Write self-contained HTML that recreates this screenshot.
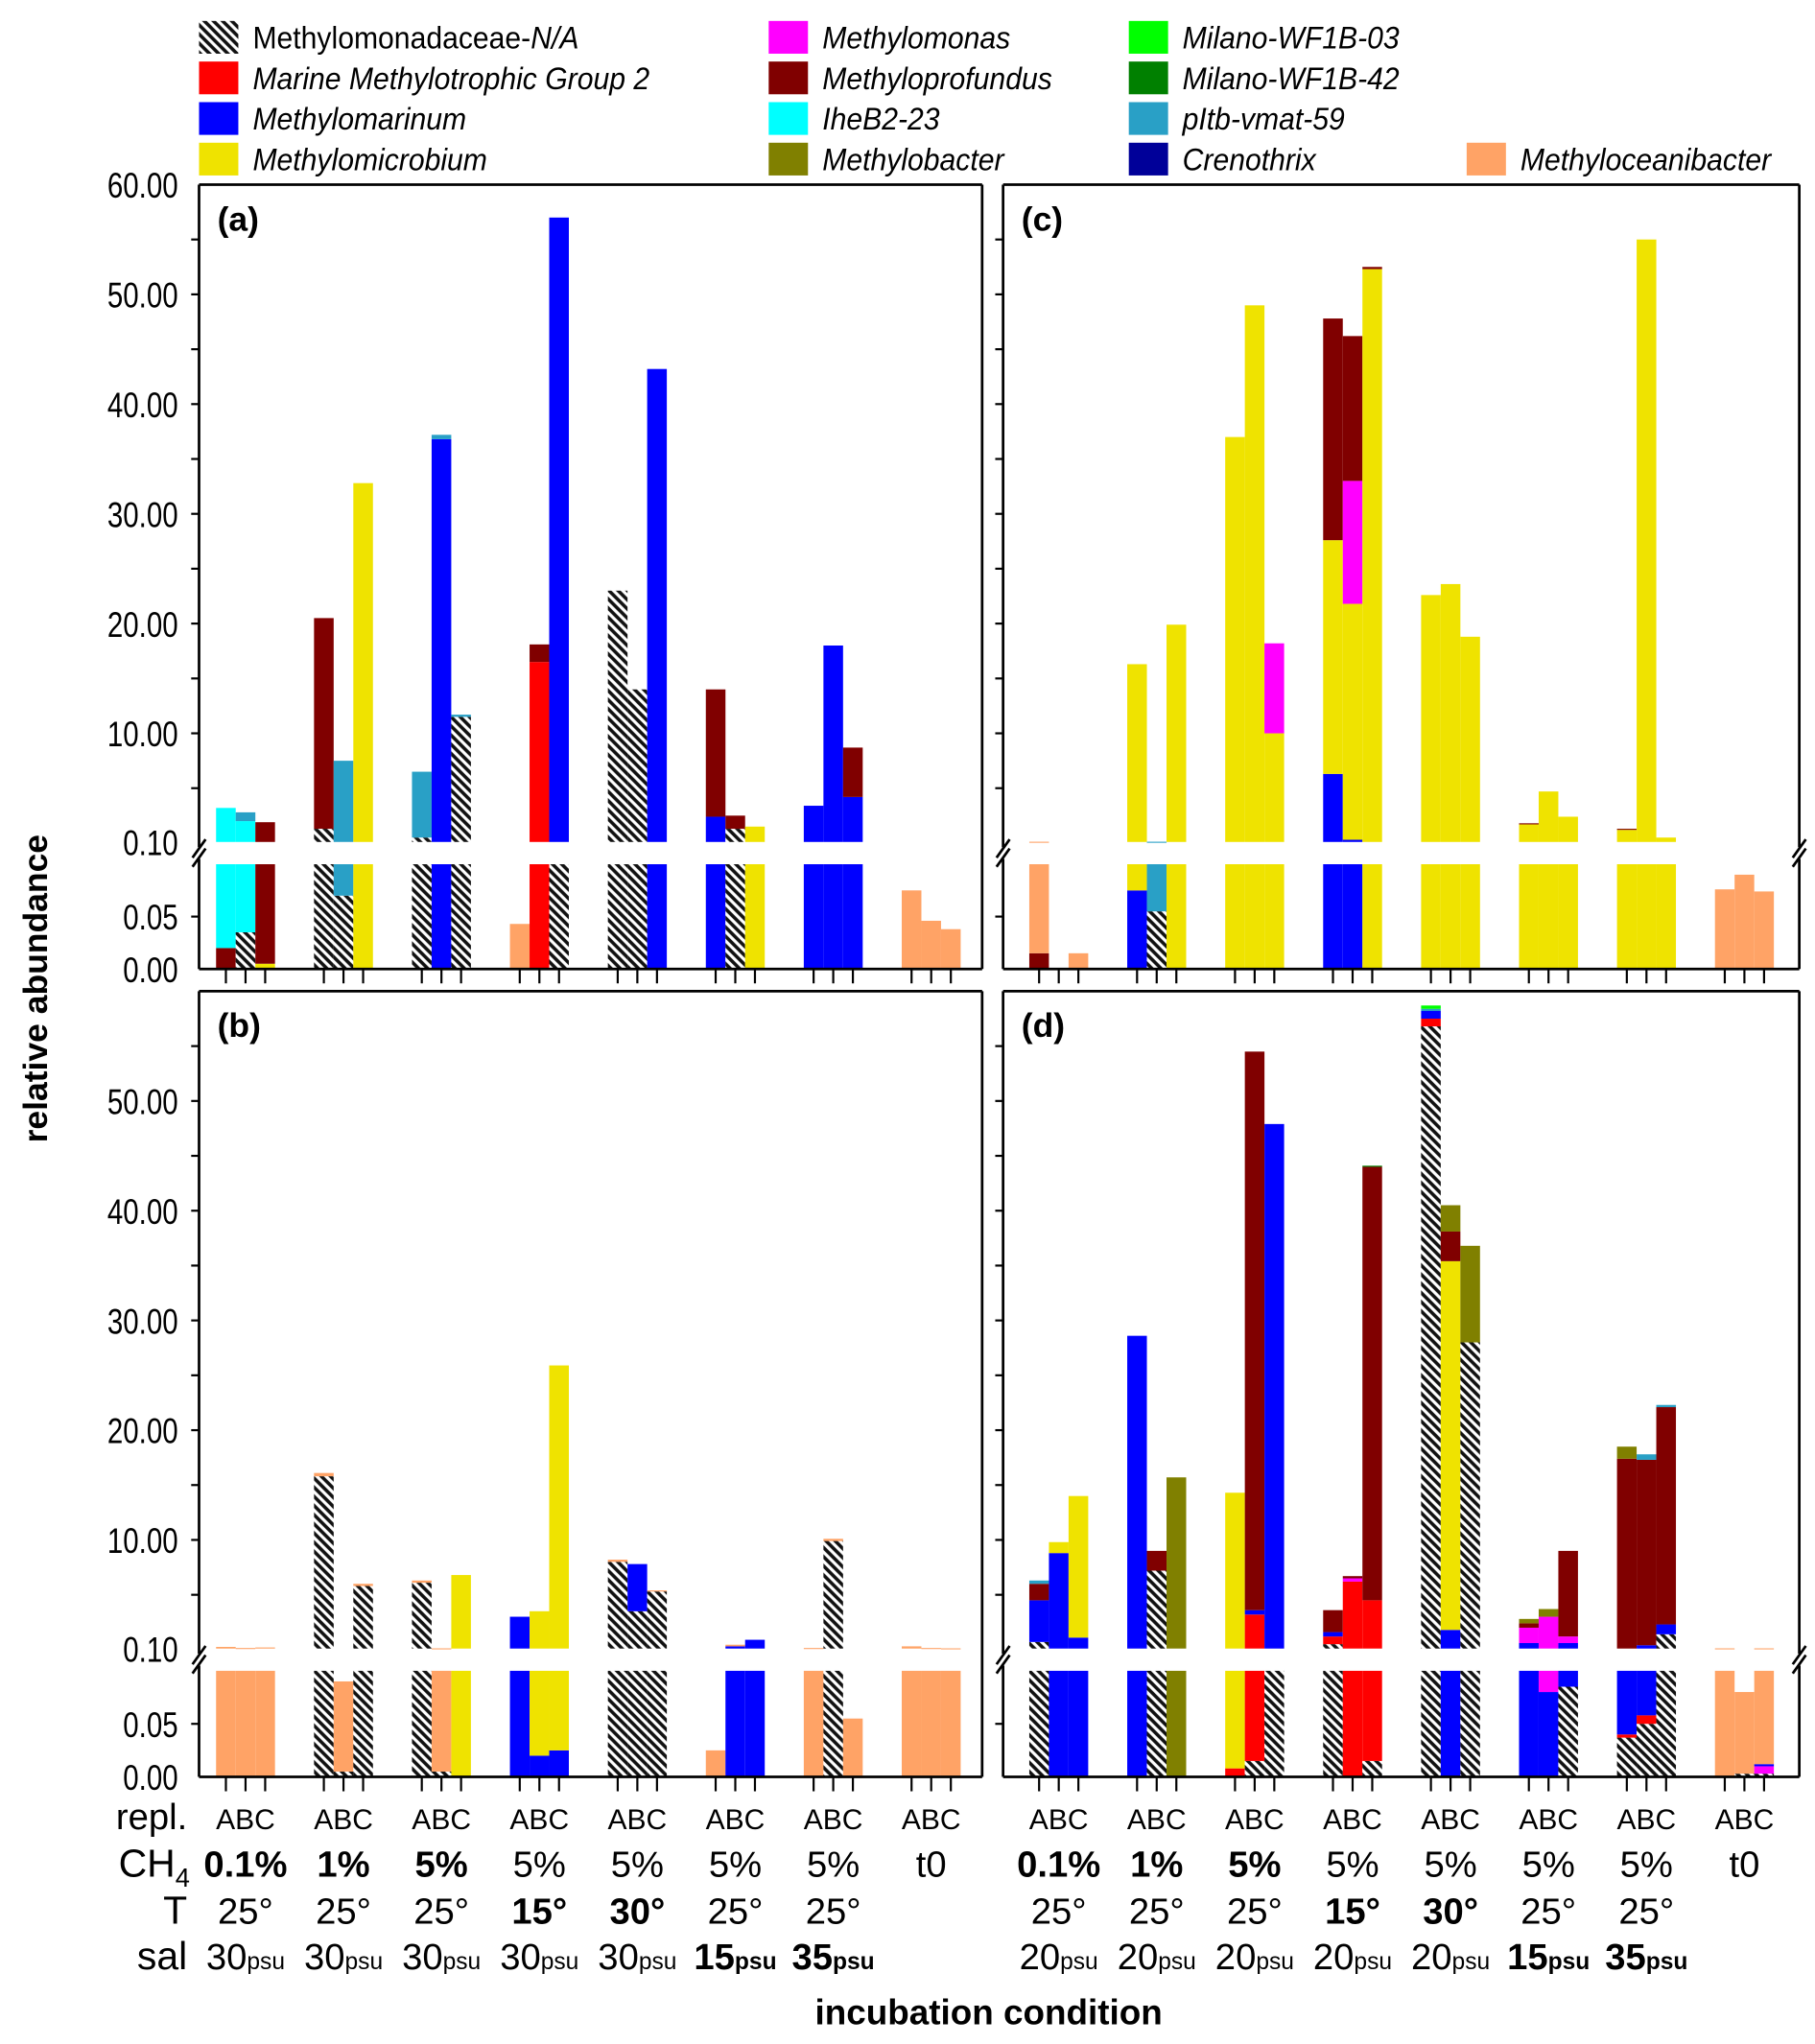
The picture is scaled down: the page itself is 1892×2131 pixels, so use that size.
<!DOCTYPE html>
<html><head><meta charset="utf-8">
<style>
html,body{margin:0;padding:0;background:#fff;}
svg{display:block;font-family:"Liberation Sans",sans-serif;}
</style></head>
<body>
<svg id="chart" width="1892" height="2131" viewBox="0 0 1386 1561" preserveAspectRatio="none" xmlns="http://www.w3.org/2000/svg">
<defs>
<pattern id="hatch" patternUnits="userSpaceOnUse" width="7" height="7">
<rect width="7" height="7" fill="#fff"/>
<path d="M-1,-1 L8,8 M-1,6 L1,8 M6,-1 L8,1" stroke="#111" stroke-width="2.6"/>
</pattern>
</defs>
<g id="legend" font-size="24" font-style="italic">
</g>
<g id="plots"></g>
<text x="0" y="0" transform="translate(36,755) rotate(-90)" text-anchor="middle" font-size="26" font-weight="bold">relative abundance</text>
<text x="755" y="1546" text-anchor="middle" font-size="27" font-weight="bold">incubation condition</text>
</svg>
<script>
const taxaKeys = ["H","R","B","Y","M","P","C","O","G","DG","T","N","S"];
const taxaNames = ["Methylomonadaceae-N/A","Marine Methylotrophic Group 2","Methylomarinum","Methylomicrobium","Methylomonas","Methyloprofundus","IheB2-23","Methylobacter","Milano-WF1B-03","Milano-WF1B-42","pItb-vmat-59","Crenothrix","Methyloceanibacter"];
const taxaColors = ["url(#hatch)","#ff0000","#0000ff","#efe300","#ff00ff","#800000","#00ffff","#808000","#00ff00","#008000","#29a0c6","#000099","#ffa366"];

// cumulative stack tops per bar (groups of A,B,C)
const dataA = [
 [["P",0.02],["C",3.2]], [["H",0.035],["C",2.0],["T",2.8]], [["Y",0.005],["P",1.9]],
 [["H",1.3],["P",20.5]], [["H",0.07],["T",7.5]], [["Y",32.8]],
 [["H",0.5],["T",6.5]], [["B",36.8],["T",37.2]], [["H",11.5],["T",11.7]],
 [["S",0.043]], [["R",16.5],["P",18.1]], [["H",0.1],["B",57]],
 [["H",23]], [["H",14]], [["B",43.2]],
 [["B",2.4],["P",14]], [["H",1.3],["P",2.5]], [["Y",1.5]],
 [["B",3.4]], [["B",18]], [["B",4.2],["P",8.7]],
 [["S",0.075]], [["S",0.046]], [["S",0.038]]
];
const dataB = [
 [["S",0.25]], [["S",0.15]], [["S",0.2]],
 [["H",15.8],["S",16.1]], [["H",0.005],["S",0.09]], [["H",5.8],["S",6.0]],
 [["H",6.1],["S",6.3]], [["H",0.005],["S",0.12]], [["Y",6.8]],
 [["B",3.0]], [["B",0.02],["Y",3.5]], [["B",0.025],["Y",25.9]],
 [["H",8.0],["S",8.2]], [["H",3.5],["B",7.8]], [["H",5.3],["S",5.4]],
 [["S",0.025]], [["B",0.3],["S",0.45]], [["B",0.9]],
 [["S",0.15]], [["H",9.9],["S",10.1]], [["S",0.055]],
 [["S",0.3]], [["S",0.15]], [["S",0.12]]
];
const dataC = [
 [["P",0.015],["S",0.12]], [], [["S",0.015]],
 [["B",0.075],["Y",16.3]], [["H",0.055],["T",0.12]], [["Y",19.9]],
 [["Y",37]], [["Y",49]], [["Y",10],["M",18.2]],
 [["B",6.3],["Y",27.6],["P",47.8]], [["B",0.3],["Y",21.8],["M",33],["P",46.2]], [["Y",52.3],["P",52.5]],
 [["Y",22.6]], [["Y",23.6]], [["Y",18.8]],
 [["Y",1.7],["P",1.8]], [["Y",4.7]], [["Y",2.4]],
 [["Y",1.2],["P",1.3]], [["Y",55]], [["Y",0.5]],
 [["S",0.076]], [["S",0.09]], [["S",0.074]]
];
const dataD = [
 [["H",0.7],["B",4.5],["P",6.0],["T",6.3]], [["B",8.8],["Y",9.8]], [["B",1.1],["Y",14]],
 [["B",28.6]], [["H",7.2],["P",9.0]], [["O",15.7]],
 [["R",0.008],["Y",14.3]], [["H",0.015],["R",3.2],["B",3.6],["P",54.5]], [["H",0.1],["B",47.9]],
 [["H",0.5],["R",1.2],["B",1.6],["P",3.6]], [["R",6.2],["M",6.5],["P",6.7]], [["H",0.015],["R",4.5],["P",44],["DG",44.1]],
 [["H",56.8],["R",57.5],["B",58.2],["T",58.4],["G",58.7]], [["B",1.8],["Y",35.4],["P",38.1],["O",40.5]], [["H",28],["O",36.8]],
 [["B",0.6],["M",2.0],["P",2.4],["O",2.8]], [["B",0.08],["M",3.0],["O",3.7]], [["H",0.085],["B",0.6],["M",1.2],["P",9.0]],
 [["H",0.037],["R",0.04],["B",0.1],["P",17.4],["O",18.5]], [["H",0.05],["R",0.058],["B",0.4],["P",17.3],["T",17.8]], [["H",1.4],["B",2.3],["P",22.1],["T",22.3]],
 [["S",0.12]], [["H",0.003],["S",0.08]], [["H",0.003],["M",0.01],["B",0.012],["S",0.12]]
];
const upperTicks = ["0.10","10.00","20.00","30.00","40.00","50.00","60.00"];
const upperTickVals = [0.1,10,20,30,40,50,60];
const lowerTicks = ["0.00","0.05"];
const lowerTickVals = [0,0.05];
const ch4Labels = ["0.1%","1%","5%","5%","5%","5%","5%","t0"];
const ch4Bold = [1,1,1,0,0,0,0,0];
const tLabels = ["25°","25°","25°","15°","30°","25°","25°",""];
const tBold = [0,0,0,1,1,0,0,0];
const salLeft = ["30","30","30","30","30","15","35",""];
const salRight = ["20","20","20","20","20","15","35",""];
const salBold = [0,0,0,0,0,1,1,0];

const NS="http://www.w3.org/2000/svg";
const svg=document.getElementById("chart");
function mk(tag,attrs,parent){const e=document.createElementNS(NS,tag);for(const k in attrs)e.setAttribute(k,attrs[k]);(parent||svg).appendChild(e);return e;}

// legend
const leg=document.getElementById("legend");
const legPos=[[0,0],[0,1],[0,2],[0,3],[1,0],[1,1],[1,2],[1,3],[2,0],[2,1],[2,2],[2,3],[3,3]];
const colSw=[152,587,862,1120];
for(let i=0;i<taxaKeys.length;i++){
 const [c,r]=legPos[i];
 const g=mk("g",{},leg);
 
 
 const sw=mk("rect",{x:colSw[c],y:16+r*31,width:30,height:25,fill:taxaColors[i]},g);
 
 
 const tx=colSw[c]+41;
 const t=mk("text",{x:tx,y:37+r*31,transform:"translate("+tx+",0) scale(0.92,1) translate("+(-tx)+",0)"},g);
 if(i===0){
  const a=mk("tspan",{"font-style":"normal"},t);a.textContent="Methylomonadaceae-";
  const b=mk("tspan",{},t);b.textContent="N/A";
 } else t.textContent=taxaNames[i];
 
 
}

const panels=[
 {id:"a",data:dataA,x0:152,x1:750,top:141,brk:643,low0:660,bot:740,gs:165,labels:true,letter:"(a)"},
 {id:"b",data:dataB,x0:152,x1:750,top:757,brk:1259,low0:1276,bot:1357,gs:165,labels:true,letter:"(b)",bottomRow:true,sal:salLeft},
 {id:"c",data:dataC,x0:766,x1:1374,top:141,brk:643,low0:660,bot:740,gs:786,labels:false,letter:"(c)"},
 {id:"d",data:dataD,x0:766,x1:1374,top:757,brk:1259,low0:1276,bot:1357,gs:786,labels:false,letter:"(d)",bottomRow:true,sal:salRight}
];
const GAP=74.8, BW=15;
const keyIdx=k=>taxaKeys.indexOf(k);

panels.forEach(p=>{
 const g=mk("g",{});
 
 
 const ys=(p.brk-p.top)/59.9;
 const yU=v=>p.brk-(v-0.1)*ys;
 const yL=v=>p.bot-(v/0.1)*(p.bot-p.low0);
 const bx=i=>p.gs+Math.floor(i/3)*GAP+(i%3)*BW;
 p.data.forEach((stack,i)=>{
  let s=0;
  stack.forEach(([k,top])=>{
   const col=taxaColors[keyIdx(k)];
   const lo0=Math.min(s,0.1), lo1=Math.min(top,0.1);
   if(lo1>lo0){const r=mk("rect",{x:bx(i),y:yL(lo1),width:BW,height:yL(lo0)-yL(lo1),fill:col},g);
    
    }
   const u0=Math.max(s,0.1), u1=Math.max(top,0.1);
   if(u1>u0){const r=mk("rect",{x:bx(i),y:yU(u1),width:BW,height:Math.max(yU(u0)-yU(u1),0.8),fill:col},g);
    
    }
   s=top;
  });
  mk("line",{x1:bx(i)+BW/2,x2:bx(i)+BW/2,y1:p.bot,y2:p.bot+11,stroke:"#000","stroke-width":1.6},g);
 });
 const st={stroke:"#000","stroke-width":2,fill:"none"};
 mk("line",Object.assign({x1:p.x0,x2:p.x1,y1:p.top,y2:p.top},st),g);
 mk("line",Object.assign({x1:p.x0,x2:p.x1,y1:p.bot,y2:p.bot},st),g);
 mk("line",Object.assign({x1:p.x0,x2:p.x0,y1:p.top,y2:p.brk+4},st),g);
 mk("line",Object.assign({x1:p.x0,x2:p.x0,y1:p.low0-4,y2:p.bot},st),g);
 if(p.id==="a"||p.id==="b"){
  mk("line",Object.assign({x1:p.x1,x2:p.x1,y1:p.top,y2:p.bot},st),g);
 } else {
  mk("line",Object.assign({x1:p.x1,x2:p.x1,y1:p.top,y2:p.brk+4},st),g);
  mk("line",Object.assign({x1:p.x1,x2:p.x1,y1:p.low0-4,y2:p.bot},st),g);
  mk("line",Object.assign({x1:p.x1-5,x2:p.x1+5,y1:p.brk+12,y2:p.brk-2},st),g);
  mk("line",Object.assign({x1:p.x1-5,x2:p.x1+5,y1:p.low0+2,y2:p.low0-12},st),g);
 }
 mk("line",Object.assign({x1:p.x0-5,x2:p.x0+5,y1:p.brk+12,y2:p.brk-2},st),g);
 mk("line",Object.assign({x1:p.x0-5,x2:p.x0+5,y1:p.low0+2,y2:p.low0-12},st),g);
 for(let v=5;v<=55;v+=5){mk("line",{x1:p.x0-6,x2:p.x0,y1:yU(v),y2:yU(v),stroke:"#000","stroke-width":1.6},g);}
 mk("line",{x1:p.x0-6,x2:p.x0,y1:yL(0.05),y2:yL(0.05),stroke:"#000","stroke-width":1.6},g);
 if(p.labels){
  const lx=p.x0-16;
  const tf="translate("+lx+",0) scale(0.8,1) translate("+(-lx)+",0)";
  upperTicks.forEach((lab,j)=>{
   if(p.id==="b"&&upperTickVals[j]===60)return;
   const t=mk("text",{x:lx,y:yU(upperTickVals[j])+10,"text-anchor":"end","font-size":27,transform:tf},g);
   t.textContent=lab;
   
   
  });
  lowerTicks.forEach((lab,j)=>{
   const t=mk("text",{x:lx,y:yL(lowerTickVals[j])+10,"text-anchor":"end","font-size":27,transform:tf},g);
   t.textContent=lab;
   
   
  });
 }
 const L=mk("text",{x:p.x0+14,y:p.top+35,"font-size":26,"font-weight":"bold"},g);
 L.textContent=p.letter;
 
 
 if(p.bottomRow){
  for(let gi=0;gi<8;gi++){
   const cx=p.gs+gi*GAP+22.5;
   const rows=[["ABC",0,1400,22],[ch4Labels[gi],ch4Bold[gi],1436,28],[tLabels[gi],tBold[gi],1472,28]];
   rows.forEach(([txt,b,y,fs])=>{
    const t=mk("text",{x:cx,y:y-3,"text-anchor":"middle","font-size":fs,"font-weight":b?"bold":"normal"},g);
    t.textContent=txt;
    
    
   });
   if(p.sal[gi]){
    const t=mk("text",{x:cx,y:1504,"text-anchor":"middle","font-size":28,"font-weight":salBold[gi]?"bold":"normal"},g);
    t.textContent=p.sal[gi];
    const ts=mk("tspan",{"font-size":18},t);ts.textContent="psu";
    
    
   }
  }
 }
});
[["repl.",1397,28],["CH",1433,30],["T",1469,30],["sal",1504,30]].forEach(([txt,y,fs])=>{
 const t=mk("text",{x:143,y:y,"text-anchor":"end","font-size":fs});
 t.textContent=txt;
 if(txt==="CH"){const s=mk("tspan",{"font-size":20,dy:8},t);s.textContent="4";t.setAttribute("x",145);}
 
 
});
</script>
</body></html>
